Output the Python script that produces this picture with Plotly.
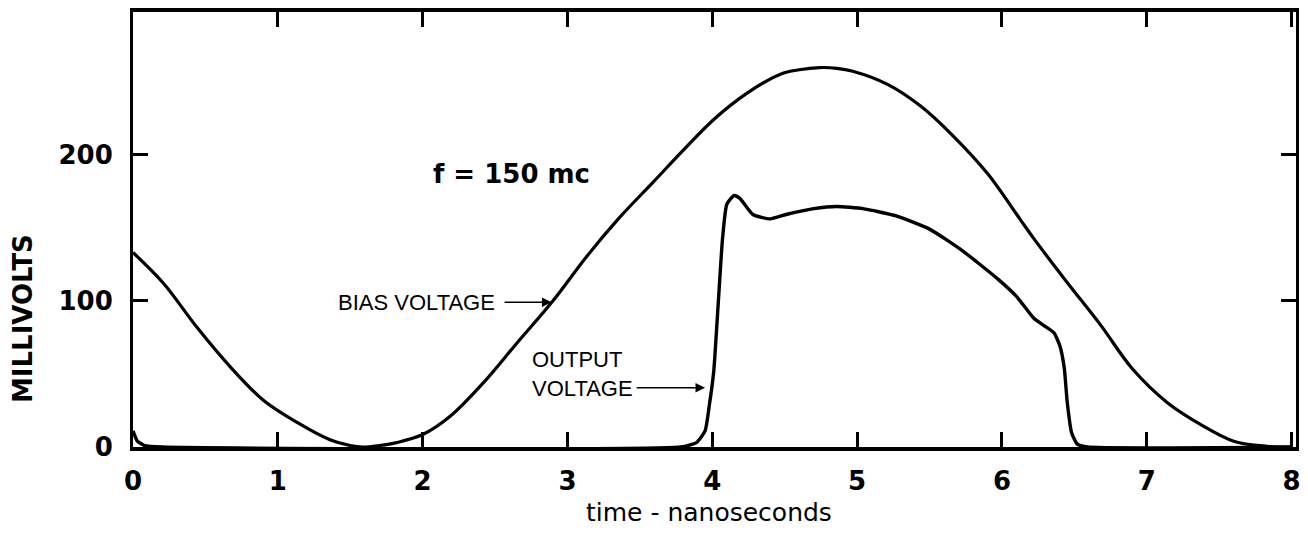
import plotly.graph_objects as go

# ---- data ----
bias_t = [0.0, 0.21, 0.44, 0.67, 0.90, 1.13, 1.36, 1.50, 1.59, 1.70, 1.82, 2.0, 2.19, 2.42, 2.65,
          2.90, 3.13, 3.36, 3.59, 3.80, 4.01, 4.24, 4.47, 4.60, 4.74, 4.86, 4.97, 5.21, 5.44, 5.66,
          5.90, 6.13, 6.22, 6.45, 6.68, 6.90, 7.14, 7.37, 7.60, 7.83, 8.0]
bias_mv = [133, 112, 82, 55, 32, 17, 5, 1, 0, 1, 3, 8.5, 21, 44, 71,
           100, 130, 157, 181, 203, 224, 242, 255, 258, 259.5, 259, 257, 248, 233, 213,
           187, 155, 142.5, 112.5, 83.5, 53.5, 30.5, 15.5, 4, 0.5, 0]

out_t = [0.0, 0.03, 0.08, 0.2, 3.78, 3.89, 3.95, 3.98, 4.01, 4.04, 4.07, 4.10, 4.15, 4.19,
         4.28, 4.40, 4.51, 4.70, 4.86, 5.04, 5.27, 5.50, 5.73, 5.97, 6.10, 6.22, 6.29,
         6.36, 6.40, 6.43, 6.45, 6.48, 6.52, 6.59, 8.0]
out_mv = [11, 4, 1, 0, 0, 3, 11, 29, 52, 97, 142, 166, 172, 170,
          159, 156, 159, 163, 164.5, 163, 158, 149, 134, 115, 103, 88, 83,
          78, 69, 54, 31, 10, 2, 0, 0]

x_ticks = [0, 1, 2, 3, 4, 5, 6, 7, 8]
x_ticktext = ["0", "1", "2", "3", "4", "5", "6", "7", "8"]
y_ticks = [0, 100, 200]
y_ticktext = ["0", "100", "200"]

fig = go.Figure()
fig.add_trace(go.Scatter(x=bias_t, y=bias_mv, mode="lines", name="BIAS VOLTAGE",
                         line=dict(color="black", width=3.2, shape="spline", smoothing=1.0)))
fig.add_trace(go.Scatter(x=out_t, y=out_mv, mode="lines", name="OUTPUT VOLTAGE",
                         line=dict(color="black", width=3.4, shape="spline", smoothing=0.5)))

tickfont = dict(family="DejaVu Sans", size=26, color="black", weight="bold")
fig.update_layout(
    width=1300, height=527,
    margin=dict(l=125, r=12, t=0, b=88),
    paper_bgcolor="white", plot_bgcolor="white",
    showlegend=False,
    font=dict(family="DejaVu Sans", color="black"),
    xaxis=dict(range=[0, 8.03], tickvals=x_ticks, ticktext=x_ticktext,
               ticks="inside", ticklen=15, tickwidth=2.5, tickcolor="black",
               showline=True, linecolor="black", linewidth=4, mirror="ticks",
               showgrid=False, zeroline=False, tickfont=tickfont,
               ticklabelstandoff=8),
    yaxis=dict(range=[0, 297.5], tickvals=y_ticks, ticktext=y_ticktext,
               ticks="inside", ticklen=15, tickwidth=2.5, tickcolor="black",
               showline=True, linecolor="black", linewidth=3, mirror="ticks",
               showgrid=False, zeroline=False, tickfont=tickfont,
               ticklabelstandoff=12),
)

ann = []
# axis titles
ann.append(dict(text="time - nanoseconds", x=3.98, y=0, xref="x", yref="paper",
                yshift=-65, showarrow=False, xanchor="center", yanchor="middle",
                font=dict(family="DejaVu Sans", size=25, color="black")))
ann.append(dict(text="MILLIVOLTS", x=-0.094, y=88, xref="paper", yref="y",
                textangle=-90, showarrow=False, xanchor="center", yanchor="middle",
                font=dict(family="DejaVu Sans", size=26, color="black", weight="bold")))
# frequency label
ann.append(dict(text="f = 150 mc", x=2.61, y=187, xref="x", yref="y", showarrow=False,
                xanchor="center", yanchor="middle",
                font=dict(family="DejaVu Sans", size=26, color="black", weight="bold")))
# curve labels
ann.append(dict(text="BIAS VOLTAGE", x=2.514, y=99, xref="x", yref="y", showarrow=False,
                xanchor="right", yanchor="middle",
                font=dict(family="Liberation Sans", size=22, color="black")))
ann.append(dict(text="", x=2.89, y=99, ax=2.555, ay=99, xref="x", yref="y",
                axref="x", ayref="y", showarrow=True, arrowhead=2, arrowsize=1.2,
                arrowwidth=1.6, arrowcolor="black"))
ann.append(dict(text="OUTPUT<br>VOLTAGE", x=2.74, y=50, xref="x", yref="y", showarrow=False,
                xanchor="left", yanchor="middle", align="left",
                font=dict(family="Liberation Sans", size=22, color="black")))
ann.append(dict(text="", x=3.95, y=40.5, ax=3.467, ay=40.5, xref="x", yref="y",
                axref="x", ayref="y", showarrow=True, arrowhead=2, arrowsize=1.2,
                arrowwidth=1.6, arrowcolor="black"))
fig.update_layout(annotations=ann)

fig.write_html("out.html")
